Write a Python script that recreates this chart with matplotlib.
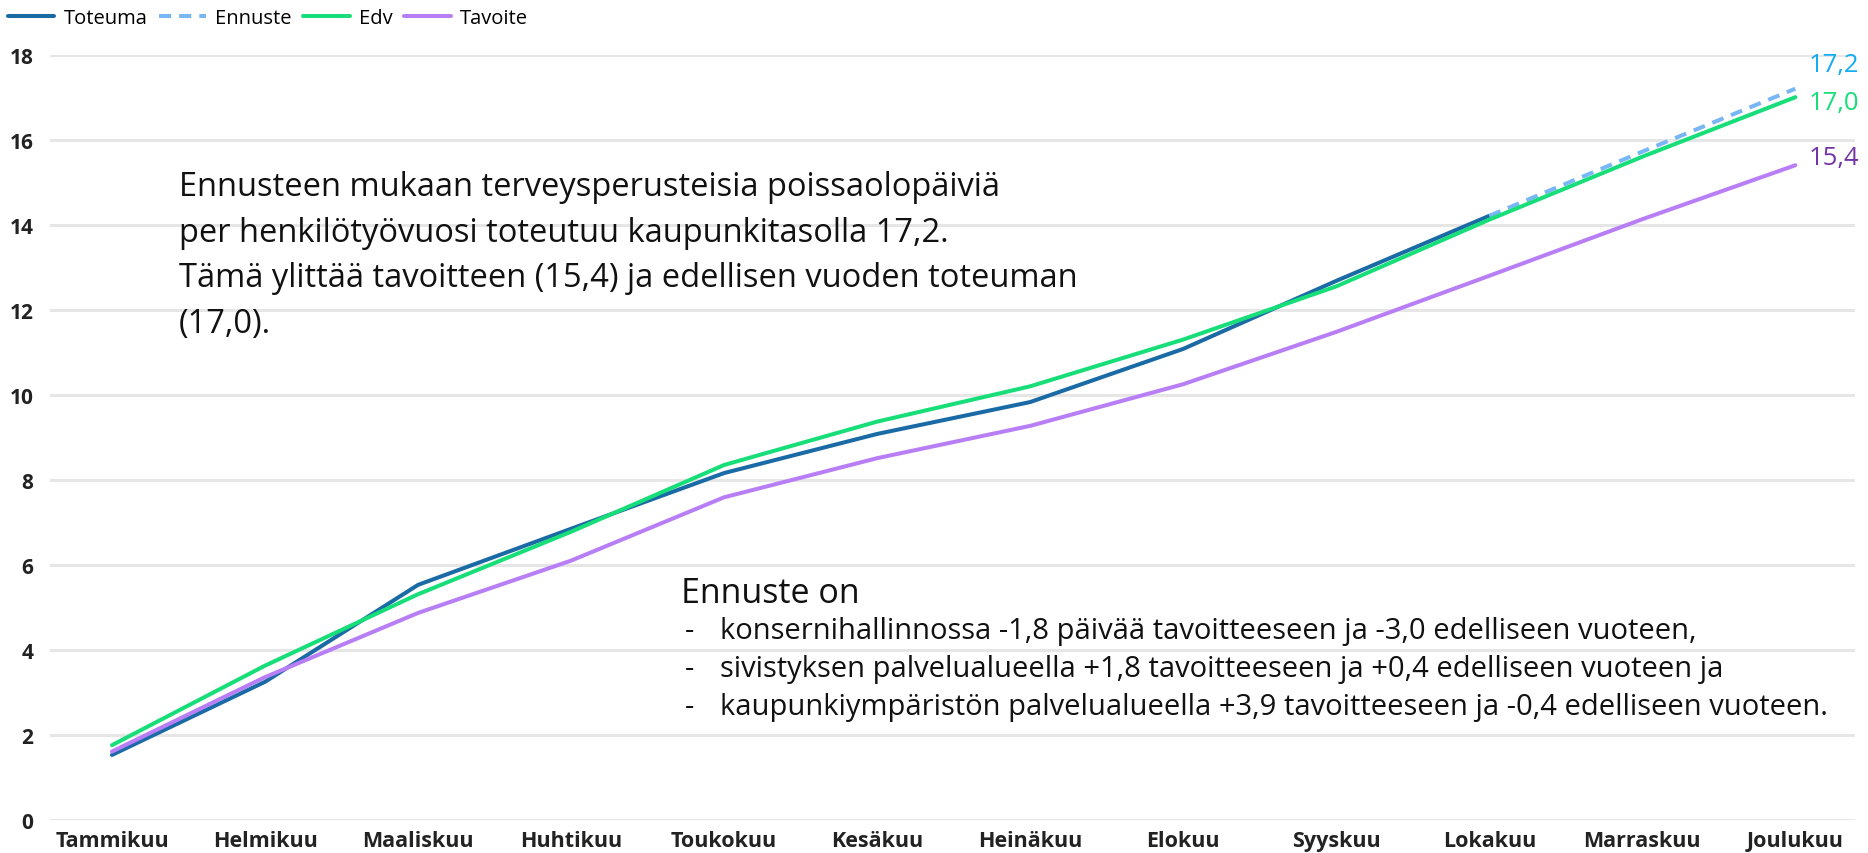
import numpy as np
import matplotlib
matplotlib.use("Agg")
import matplotlib.pyplot as plt

plt.rcParams['font.family'] = ['Open Sans', 'DejaVu Sans']

months = ['Tammikuu', 'Helmikuu', 'Maaliskuu', 'Huhtikuu', 'Toukokuu', 'Kesäkuu',
          'Heinäkuu', 'Elokuu', 'Syyskuu', 'Lokakuu', 'Marraskuu', 'Joulukuu']
toteuma = [1.53, 3.25, 5.53, 6.85, 8.16, 9.08, 9.83, 11.08, 12.68, 14.21, None, None]
ennuste = [None, None, None, None, None, None, None, None, None, 14.21, 15.72, 17.2]
edv = [1.76, 3.63, 5.31, 6.78, 8.35, 9.37, 10.2, 11.3, 12.55, 14.12, 15.6, 17.0]
tavoite = [1.61, 3.36, 4.87, 6.1, 7.59, 8.51, 9.27, 10.25, 11.48, 12.8, 14.13, 15.4]
y_ticks = [0, 2, 4, 6, 8, 10, 12, 14, 16, 18]

end_labels = ['17,2', '17,0', '15,4']

text_main = ("Ennusteen mukaan terveysperusteisia poissaolopäiviä\n"
             "per henkilötyövuosi toteutuu kaupunkitasolla 17,2.\n"
             "Tämä ylittää tavoitteen (15,4) ja edellisen vuoden toteuman\n"
             "(17,0).")
text_head = "Ennuste on"
bullets = ["konsernihallinnossa -1,8 päivää tavoitteeseen ja -3,0 edelliseen vuoteen,",
           "sivistyksen palvelualueella +1,8 tavoitteeseen ja +0,4 edelliseen vuoteen ja",
           "kaupunkiympäristön palvelualueella +3,9 tavoitteeseen ja -0,4 edelliseen vuoteen."]

c_tot = '#1A6AA6'
c_enn = '#78B6F5'
c_edv = '#17DE79'
c_tav = '#B87EF6'

fig = plt.figure(figsize=(18.68, 8.54), dpi=100)
ax = fig.add_axes([50 / 1868, 1 - 821 / 854, (1855 - 50) / 1868, (821 - 55.7) / 854])

x = np.arange(len(months))
to_arr = lambda v: np.array([np.nan if a is None else a for a in v], dtype=float)

ax.plot(x, to_arr(toteuma), color=c_tot, lw=2.9, label='Toteuma', solid_capstyle='round')
ax.plot(x, to_arr(ennuste), color=c_enn, lw=2.9, ls=(0, (3, 2)), label='Ennuste')
ax.plot(x, to_arr(edv), color=c_edv, lw=2.9, label='Edv', solid_capstyle='round')
ax.plot(x, to_arr(tavoite), color=c_tav, lw=2.9, label='Tavoite', solid_capstyle='round')

# end value labels
ax.annotate(end_labels[0], (x[-1], ennuste[-1]), xytext=(13, 24), textcoords='offset pixels',
            color='#14ACF2', fontsize=18.5, va='center', ha='left')
ax.annotate(end_labels[1], (x[-1], edv[-1]), xytext=(13, -5), textcoords='offset pixels',
            color='#17DE79', fontsize=18.5, va='center', ha='left')
ax.annotate(end_labels[2], (x[-1], tavoite[-1]), xytext=(13, 8), textcoords='offset pixels',
            color='#7433A8', fontsize=18.5, va='center', ha='left')

ax.set_xlim(-0.405, 11.39)
ax.set_ylim(0, 18)
ax.set_xticks(x)
ax.set_xticklabels(months, fontsize=15.5, fontweight='bold', color='#222222')
ax.set_yticks(y_ticks)
ax.set_yticklabels([str(t) for t in y_ticks], fontsize=15, fontweight='bold', color='#222222')
ax.tick_params(length=0)
ax.tick_params(axis='y', pad=12)
ax.tick_params(axis='x', pad=7)
ax.grid(axis='y', color='#E6E6E6', lw=2.2)
ax.set_axisbelow(True)
for s in ax.spines.values():
    s.set_visible(False)

fig.legend(loc='upper left', bbox_to_anchor=(8 / 1868, 1 - 9 / 854), ncol=4, frameon=False,
           fontsize=14.5, handlelength=2.3, handletextpad=0.45, columnspacing=0.6,
           borderaxespad=0, borderpad=0)

fig.text(179 / 1868, 1 - 171 / 854, text_main, fontsize=23.5, va='top', ha='left',
         linespacing=1.5, color='#111111')
fig.text(681 / 1868, 1 - 594 / 854, text_head, fontsize=24.5, va='center', ha='left', color='#111111')
for i, b in enumerate(bullets):
    yy = 1 - (631 + i * 38.5) / 854
    fig.text(685 / 1868, yy, '-', fontsize=21, va='center', ha='left', color='#111111')
    fig.text(720 / 1868, yy, b, fontsize=21, va='center', ha='left', color='#111111')

fig.savefig('out.png', dpi=100)
